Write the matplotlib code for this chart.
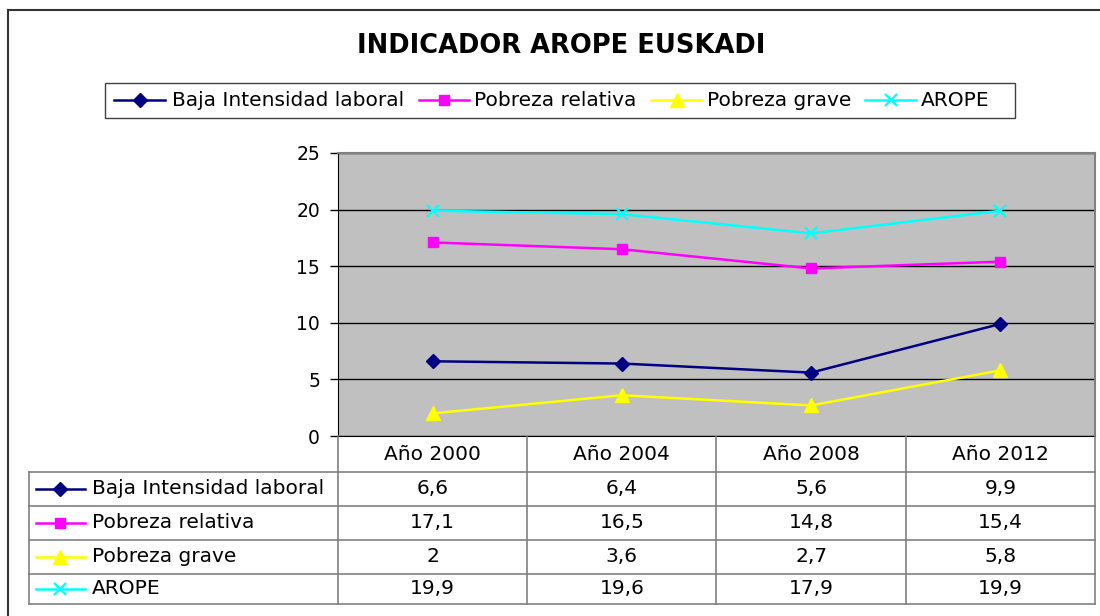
import matplotlib
matplotlib.use("Agg")
import matplotlib.pyplot as plt
from matplotlib.lines import Line2D
from matplotlib.patches import Rectangle
from matplotlib.transforms import blended_transform_factory

# ---- data ----
categories = ["Año 2000", "Año 2004", "Año 2008", "Año 2012"]
series_names = ["Baja Intensidad laboral", "Pobreza relativa", "Pobreza grave", "AROPE"]
baja = [6.6, 6.4, 5.6, 9.9]
relativa = [17.1, 16.5, 14.8, 15.4]
grave = [2, 3.6, 2.7, 5.8]
arope = [19.9, 19.6, 17.9, 19.9]
yticks = [0, 5, 10, 15, 20, 25]
title = "INDICADOR AROPE EUSKADI"

values = [baja, relativa, grave, arope]
styles = [
    dict(color="#000080", marker="D", markersize=7, markerfacecolor="#000080", markeredgecolor="#000080"),
    dict(color="#FF00FF", marker="s", markersize=7.5, markerfacecolor="#FF00FF", markeredgecolor="#FF00FF"),
    dict(color="#FFFF00", marker="^", markersize=9.5, markerfacecolor="#FFFF00", markeredgecolor="#FFFF00"),
    dict(color="#00FFFF", marker="x", markersize=9, markeredgewidth=1.6, markeredgecolor="#00FFFF"),
]

plt.rcParams['font.family'] = ['DejaVu Sans']
TXT = 14.5

W, H = 1100, 616
fig = plt.figure(figsize=(W / 100, H / 100), dpi=100)
fig.patch.set_facecolor("white")

# main plot area (pixel geometry)
L, R, T, B = 338, 1095, 153, 436
ax = fig.add_axes([L / W, 1 - B / H, (R - L) / W, (B - T) / H])
ax.set_facecolor("#C0C0C0")
x = list(range(len(categories)))
for vals, st in zip(values, styles):
    ax.plot(x, vals, linewidth=1.8, zorder=3, clip_on=False, **st)
ax.set_xlim(-0.5, len(categories) - 0.5)
ax.set_ylim(0, 25)
ax.set_yticks(yticks)
ax.set_xticks([])
ax.yaxis.grid(True, color="black", linewidth=1.0)
ax.set_axisbelow(True)
ax.tick_params(axis="y", length=6, width=1, color="black", pad=7, labelsize=13.5)
for s in ["top", "right"]:
    ax.spines[s].set_color("#808080")
    ax.spines[s].set_linewidth(1.5)
ax.spines["left"].set_color("black")
ax.spines["bottom"].set_color("black")

# decoration overlay in pixel coordinates
deco = fig.add_axes([0, 0, 1, 1], facecolor="none")
deco.set_xlim(0, W)
deco.set_ylim(H, 0)
deco.axis("off")

# outer chart border
deco.plot([8, 8], [10, H + 5], color="#333333", linewidth=1.5)
deco.plot([8, W + 5], [10, 10], color="#333333", linewidth=1.5)

# title
deco.text(561, 46, title, ha="center", va="center", fontsize=18.5, fontweight="bold")

# legend
deco.add_patch(Rectangle((105, 83), 910, 35, facecolor="white", edgecolor="#404040", linewidth=1.0))
leg_key_x = [(114, 165), (419, 469), (651, 702), (865, 916)]
leg_text_x = [172, 474, 707, 921]
for (x0, x1), tx, name, st in zip(leg_key_x, leg_text_x, series_names, styles):
    deco.add_line(Line2D([x0, x1], [100, 100], linewidth=1.8, **{k: v for k, v in st.items() if k != "marker"}))
    deco.add_line(Line2D([(x0 + x1) / 2], [100], linestyle="none", **st))
    deco.text(tx, 100, name, ha="left", va="center", fontsize=TXT)

# data table
grid_c = "#808080"
col_edges = [338, 527, 716, 906, 1095]
row_edges = [472, 506, 540, 574, 604]
tleft = 29
for yy in row_edges:
    deco.plot([tleft, 1095], [yy, yy], color=grid_c, linewidth=1.2)
deco.plot([tleft, tleft], [472, 604], color=grid_c, linewidth=1.2)
for xx in col_edges:
    deco.plot([xx, xx], [436, 604], color=grid_c, linewidth=1.2)

mixed = blended_transform_factory(ax.transData, deco.transData)
header_y = 454
for i, cat in enumerate(categories):
    deco.text(i, header_y, cat, transform=mixed, ha="center", va="center", fontsize=TXT)

row_centers = [(row_edges[k] + row_edges[k + 1]) / 2 for k in range(4)]
for r, (name, vals, st) in enumerate(zip(series_names, values, styles)):
    yc = row_centers[r]
    deco.add_line(Line2D([36, 85], [yc, yc], linewidth=1.8, **{k: v for k, v in st.items() if k != "marker"}))
    deco.add_line(Line2D([60], [yc], linestyle="none", **st))
    deco.text(92, yc, name, ha="left", va="center", fontsize=TXT)
    for i, v in enumerate(vals):
        deco.text(i, yc, f"{v:g}".replace(".", ","), transform=mixed,
                  ha="center", va="center", fontsize=TXT)

fig.savefig("out.png", dpi=100)
